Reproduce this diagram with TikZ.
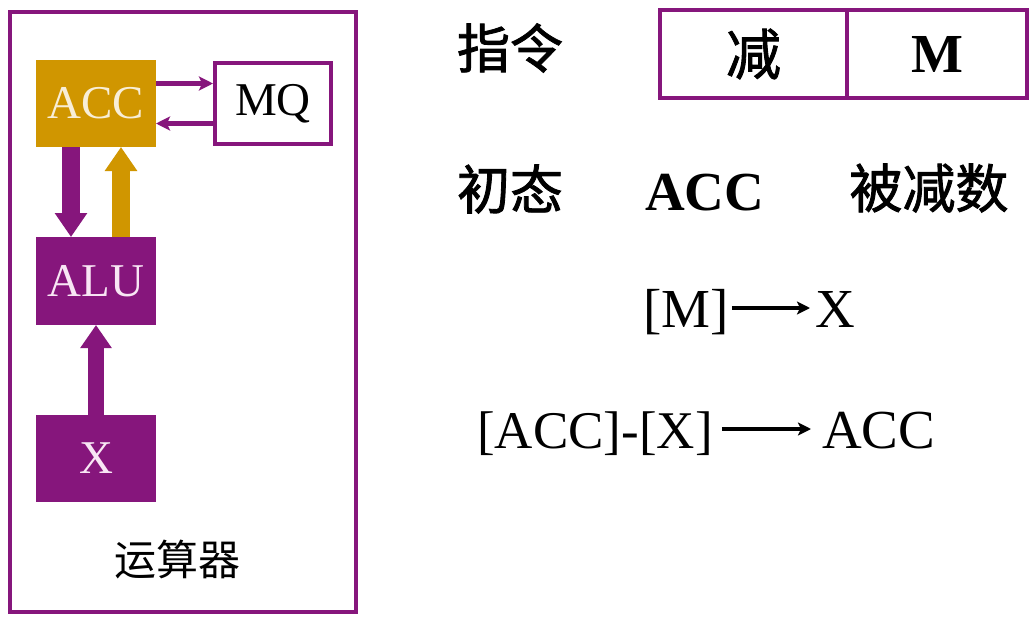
\documentclass[tikz,border=0pt]{standalone}
\usepackage{fontspec}
\setmainfont{Liberation Serif}
\newfontfamily\cjk{Noto Sans CJK SC}
\newfontfamily\cjkb[FakeBold=1.6]{Noto Sans CJK SC}
\usetikzlibrary{arrows.meta}
\definecolor{vpurple}{RGB}{134,22,124}
\definecolor{vgold}{RGB}{208,150,0}
\definecolor{vcream}{RGB}{248,238,215}
\definecolor{vpink}{RGB}{248,230,244}
\begin{document}
\begin{tikzpicture}[x=1pt,y=-1pt,
  regbox/.style={minimum width=120pt,minimum height=87pt,inner sep=0pt,outer sep=0pt,font=\fontsize{47}{50}\selectfont},
  accbox/.style={regbox,fill=vgold,text=vcream},
  purbox/.style={regbox,fill=vpurple,text=vpink},
  mqbox/.style={regbox,draw=vpurple,line width=4pt,minimum width=116pt,minimum height=81pt,outer sep=2pt},
  fmtbox/.style={draw=vpurple,line width=4pt,minimum height=88pt,inner sep=0pt,font=\fontsize{55}{60}\selectfont},
  thinarr/.style={draw=vpurple,line width=4.5pt,-{Stealth[length=14pt,width=14pt,inset=3pt]}},
  fatarr/.style={line width=18pt,-{Triangle[length=24pt,width=31pt]}},
  xfatarr/.style={line width=16pt,-{Triangle[length=23pt,width=30pt]}},
  txtarr/.style={draw=black,line width=4pt,-{Stealth[length=13pt,width=13pt,inset=3pt]},shorten <=3pt},
  big/.style={font=\fontsize{55}{60}\selectfont,inner sep=0pt,text height=38pt,text depth=0pt},
  cjkbig/.style={font=\fontsize{53}{58}\selectfont\cjkb,inner sep=0pt}
]
\useasboundingbox (0,0) rectangle (1034,624);
\fill[white] (0,0) rectangle (1034,624);
% outer frame
\draw[vpurple,line width=4pt] (10,12) rectangle (356,612);
% registers
\node[accbox] (acc) at (96,103.5) {ACC};
\node[mqbox] (mq) at (273,103.5) {MQ};
\node[purbox,minimum height=88pt] (alu) at (96,281) {ALU};
\node[purbox] (xreg) at (96,458.5) {X};
\node[font=\fontsize{42}{46}\selectfont\cjk] (unit) at (177,560) {运算器};
% connectors
\draw[thinarr] ([yshift=20pt]acc.east) -- ([yshift=20pt]mq.west);
\draw[thinarr] ([yshift=-20pt]mq.west) -- ([yshift=-20pt]acc.east);
\draw[fatarr,vpurple] ([xshift=-25pt]acc.south) -- ([xshift=-25pt]alu.north);
\draw[fatarr,vgold] ([xshift=25pt]alu.north) -- ([xshift=25pt]acc.south);
\draw[xfatarr,vpurple] (xreg.north) -- (alu.south);
% instruction format
\node[cjkbig] (instr) at (510,48) {指令};
\node[fmtbox,minimum width=187pt] (op) at (753.5,54) {\cjkb 减};
\node[fmtbox,minimum width=180pt] (addr) at (937,54) {\textbf{M}};
\node[cjkbig] (init) at (510,189) {初态};
\node[big,anchor=west] (accb) at (645,191) {\textbf{ACC}};
\node[cjkbig] (minuend) at (929,188) {被减数};
% operations
\node[big,anchor=west] (m) at (643,308) {[M]};
\node[big,anchor=west] (x1) at (815,308) {X};
\draw[txtarr,shorten >=5pt] (m.east) -- (x1.west);
\node[big,anchor=west,font=\fontsize{53}{58}\selectfont] (expr) at (477,429) {[ACC]-[X]};
\node[big,anchor=west] (acc2) at (822,429) {ACC};
\draw[txtarr,shorten >=11pt] ([xshift=6pt]expr.east) -- (acc2.west);
\end{tikzpicture}
\end{document}
